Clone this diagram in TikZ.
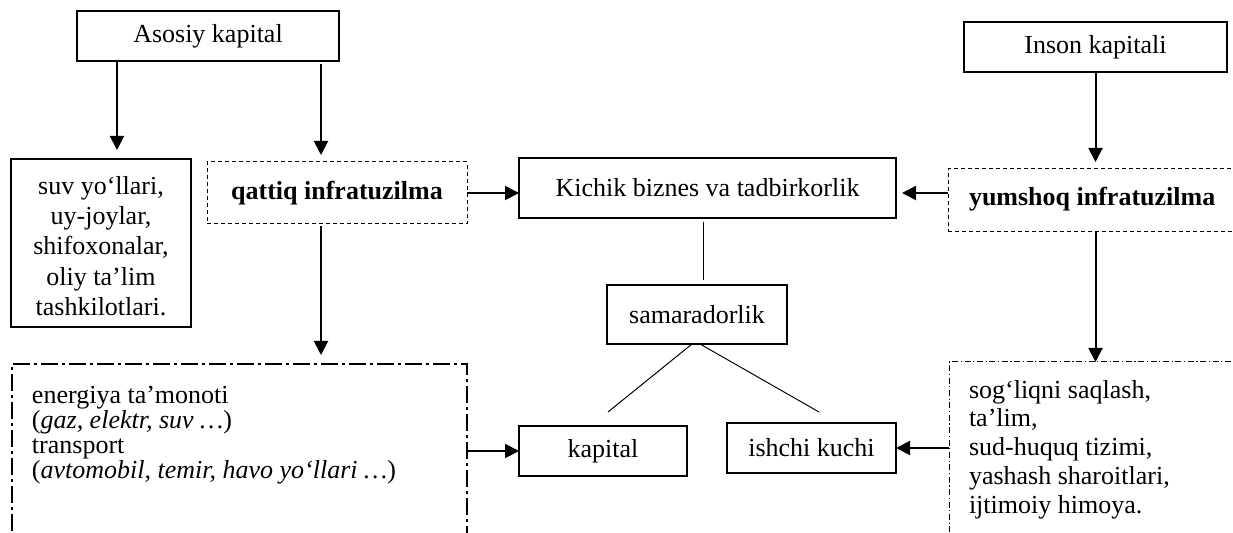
\documentclass[tikz,border=0pt]{standalone}
\usepackage{fontspec}
\setmainfont{Liberation Serif}
\usetikzlibrary{arrows.meta,calc}
\begin{document}
\begin{tikzpicture}[x=0.5pt,y=-0.5pt,
  every node/.style={font=\fontsize{13pt}{15pt}\selectfont, inner sep=0pt, outer sep=0pt},
  sbox/.style={draw, line width=0.6pt},
  dbox/.style={draw, line width=0.5pt, dash pattern=on 2pt off 1.5pt},
  ldbox/.style={draw, line width=1pt, dash pattern=on 8.5pt off 2pt on 1.5pt off 2pt},
  rdbox/.style={draw, line width=0.5pt, dash pattern=on 3pt off 1.3pt on 0.6pt off 1.3pt},
  arr/.style={line width=1pt, -{Triangle[length=7pt,width=7pt]}},
  thinl/.style={line width=0.5pt}
]
\useasboundingbox (0,0) rectangle (1233,533);
\clip (0,0) rectangle (1233,533);

% boxes
\node[sbox, minimum width=131pt, minimum height=25pt] (asosiy) at (208,36) {Asosiy kapital};
\node[sbox, minimum width=131.5pt, minimum height=25pt] (inson) at (1095.5,47) {Inson kapitali};
\node[sbox, minimum width=90pt, minimum height=84pt] (suv) at (101,243) {};
\node[align=center, font=\fontsize{13pt}{15.2pt}\selectfont] (suvtext) at (101,246)
  {suv yo‘llari,\\uy-joylar,\\shifoxonalar,\\oliy ta’lim\\tashkilotlari.};
\node[dbox, minimum width=130pt, minimum height=31pt, font=\fontsize{13pt}{15pt}\selectfont\bfseries] (qattiq) at (337,193) {qattiq infratuzilma};
\node[sbox, minimum width=188.5pt, minimum height=30pt] (kichik) at (707.5,188) {Kichik biznes va tadbirkorlik};
\node[dbox, anchor=north west, minimum width=160pt, minimum height=31.5pt] (yumshoq) at (948,169) {};
\node[anchor=west, font=\fontsize{13pt}{15pt}\selectfont\bfseries] (ytext) at (969,199) {yumshoq infratuzilma};
\node[sbox, minimum width=90pt, minimum height=29.5pt] (samar) at (697,314.5) {samaradorlik};
\node[sbox, minimum width=84pt, minimum height=25pt] (kapital) at (603,451) {kapital};
\node[sbox, minimum width=84.5pt, minimum height=25pt] (ishchi) at (811.5,448) {ishchi kuchi};

\node[ldbox, anchor=north west, minimum width=227.5pt, minimum height=100pt] (lbox) at (12,364) {};
\node[anchor=north west, align=left, font=\fontsize{13pt}{12.6pt}\selectfont] (ltext) at (32,386)
  {energiya ta’monoti\\(\textit{gaz, elektr, suv …})\\transport\\(\textit{avtomobil, temir, havo yo‘llari …})};

\node[rdbox, anchor=north west, minimum width=160pt, minimum height=100pt] (rbox) at (949,362) {};
\node[anchor=north west, align=left, font=\fontsize{13pt}{14.4pt}\selectfont] (rtext) at (969,380)
  {sog‘liqni saqlash,\\ta’lim,\\sud-huquq tizimi,\\yashash sharoitlari,\\ijtimoiy himoya.};

% connectors
\draw[arr, shorten >=4.5pt] ([xshift=8pt]suv.north |- asosiy.south) -- ([xshift=8pt]suv.north);
\draw[arr, shorten <=1.5pt, shorten >=3.5pt] ([xshift=-8pt]qattiq.north |- asosiy.south) -- ([xshift=-8pt]qattiq.north);
\draw[arr] (qattiq.east) -- (kichik.west |- qattiq.east);
\draw[arr, shorten >=3pt] (yumshoq.west |- qattiq.east) -- (kichik.east |- qattiq.east);
\draw[arr, shorten >=3.5pt] (inson.south) -- (inson.south |- yumshoq.north);
\draw[arr] (inson.south |- yumshoq.south) -- (inson.south |- rbox.north);
\draw[arr, shorten <=1pt, shorten >=4.5pt] ([xshift=-8pt]qattiq.south) -- ([xshift=-8pt]qattiq.south |- lbox.north);
\draw[arr] (lbox.east |- kapital.west) -- (kapital.west);
\draw[arr] (rbox.west |- ishchi.east) -- (ishchi.east);
\draw[thinl, shorten <=2pt, shorten >=2.5pt] ([xshift=-2.25pt]kichik.south) -- ([xshift=-2.25pt]kichik.south |- samar.north);
\draw[thinl] ([xshift=-2.5pt]samar.south) -- ($(kapital.north)+(5,-14)$);
\draw[thinl] ([xshift=1.5pt]samar.south) -- ($(ishchi.north)+(7.5,-11)$);
\end{tikzpicture}
\end{document}
